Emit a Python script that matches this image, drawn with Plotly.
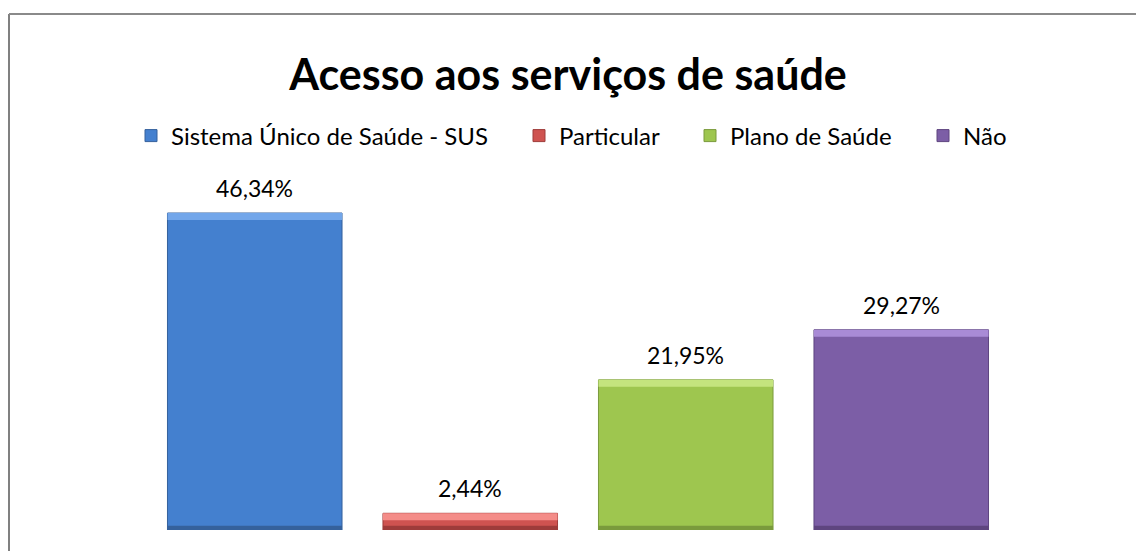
import plotly.graph_objects as go

categories = ["Sistema Único de Saúde - SUS", "Particular", "Plano de Saúde", "Não"]
values = [46.34, 2.44, 21.95, 29.27]
colors_main = ["#4480CF", "#CF5350", "#9EC64F", "#7C5EA6"]
colors_top = ["#72A6EA", "#F48C88", "#C4E47E", "#A98BD6"]
colors_bottom = ["#35619C", "#9E3C3A", "#7A9A3C", "#5E457F"]
legend_text_x = [173, 561, 732, 965]  # page px where each legend label starts

W, H = 1136, 551
ml, mt = 147, 188
mb = H - 530
mr = W - 1009
pw = W - ml - mr
ph = H - mt - mb
ymax = 50.0
unit_px = ph / ymax

fig = go.Figure()
bw = 0.81
legend_ids = ["legend", "legend2", "legend3", "legend4"]
for i, (c, v) in enumerate(zip(categories, values)):
    fig.add_trace(go.Bar(
        x=[c], y=[v], name=c, width=bw,
        marker=dict(color=colors_main[i], line=dict(color=colors_bottom[i], width=1)),
        showlegend=True, legend=legend_ids[i],
    ))
# bevel highlight strips (styling only)
strip = 7 / unit_px
for i, (c, v) in enumerate(zip(categories, values)):
    fig.add_trace(go.Bar(
        x=[c], y=[strip], base=[v - strip], width=bw,
        marker=dict(color=colors_top[i], line=dict(width=0)),
        showlegend=False, hoverinfo="skip",
    ))
    fig.add_trace(go.Bar(
        x=[c], y=[strip * 0.6], base=[0], width=bw,
        marker=dict(color=colors_bottom[i], line=dict(width=0)),
        showlegend=False, hoverinfo="skip",
    ))

annotations = [
    dict(x=c, y=v, xref="x", yref="y", text=f"{v:.2f}%".replace(".", ","),
         showarrow=False, yanchor="bottom", yshift=9,
         font=dict(family="Lato", size=23, color="#000000"))
    for c, v in zip(categories, values)
]

x_border = (9 - ml) / pw
y_border = (H - mb - 14) / ph

legend_y = (H - mb - 136) / ph
legends = {}
for lid, tx in zip(legend_ids, legend_text_x):
    legends[lid] = dict(orientation="h", x=(tx - 42 - ml) / pw, xanchor="left",
                        y=legend_y, yanchor="middle", bgcolor="rgba(0,0,0,0)",
                        font=dict(family="Lato", size=24, color="#000000"), itemwidth=30)

fig.update_layout(
    width=W, height=H,
    margin=dict(l=ml, r=mr, t=mt, b=mb),
    barmode="overlay",
    plot_bgcolor="white", paper_bgcolor="white",
    title=dict(text="<b>Acesso aos serviços de saúde</b>", x=568 / W, xref="container",
               y=1 - 75 / H, yref="container", xanchor="center", yanchor="middle",
               font=dict(family="Lato", size=43, color="#000000")),
    xaxis=dict(showticklabels=False, showgrid=False, zeroline=False, showline=False,
               ticks="", range=[-0.5, 3.5]),
    yaxis=dict(range=[0, ymax], showticklabels=False, showgrid=False, zeroline=False,
               showline=False, ticks=""),
    annotations=annotations,
    shapes=[
        dict(type="line", xref="paper", yref="paper", x0=x_border, x1=x_border,
             y0=y_border, y1=-1, line=dict(color="#808080", width=2)),
        dict(type="line", xref="paper", yref="paper", x0=x_border, x1=2,
             y0=y_border, y1=y_border, line=dict(color="#8a8a8a", width=2)),
    ],
    **legends,
)

fig.write_html(
    "out.html",
    config={"displayModeBar": False},
    post_script="document.body.style.margin='0';document.body.style.overflow='hidden';",
)
